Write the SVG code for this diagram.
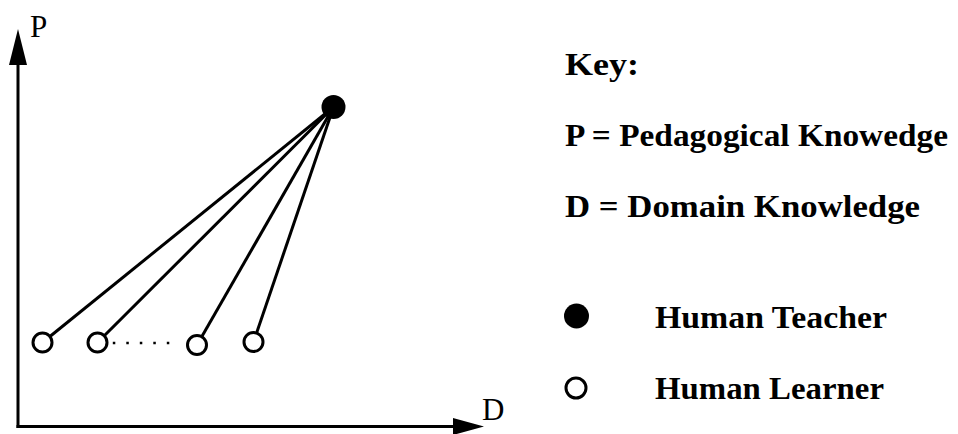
<svg xmlns="http://www.w3.org/2000/svg" width="958" height="434" viewBox="0 0 958 434">
<style>
.ln{stroke:#000;stroke-width:3;fill:none}
.lr{fill:#fff;stroke:#000;stroke-width:3}
.tc{fill:#000}
.ax{font-family:"Liberation Serif",serif;font-size:31px;fill:#000}
.key{font-family:"Liberation Serif",serif;font-weight:bold;font-size:31px;fill:#000}
</style>
<rect width="958" height="434" fill="#fff"/>
<g id="axes">
<line class="ln" x1="18" y1="428" x2="18" y2="62"/>
<polygon points="18,29 9,65 27,65" fill="#000"/>
<line class="ln" x1="16.5" y1="426.5" x2="456" y2="426.5"/>
<polygon points="484,426.5 453,418 453,435" fill="#000"/>
<text class="ax" x="30" y="37">P</text>
<text class="ax" x="482" y="420">D</text>
</g>
<g id="connectors">
<line class="ln" x1="333.5" y1="107" x2="42.5" y2="342.5"/>
<line class="ln" x1="333.5" y1="107" x2="97.5" y2="342.5"/>
<line class="ln" x1="333.5" y1="107" x2="197" y2="345"/>
<line class="ln" x1="333.5" y1="107" x2="253.5" y2="342"/>
<line x1="112.8" y1="343" x2="170" y2="343" stroke="#000" stroke-width="2.5" stroke-dasharray="2.5 11"/>
</g>
<g id="teacher"><circle class="tc" cx="333.5" cy="107" r="12"/></g>
<g id="learner1"><circle class="lr" cx="42.5" cy="342.5" r="9.5"/></g>
<g id="learner2"><circle class="lr" cx="97.5" cy="342.5" r="9.5"/></g>
<g id="learner3"><circle class="lr" cx="197" cy="345" r="9.5"/></g>
<g id="learner4"><circle class="lr" cx="253.5" cy="342" r="9.5"/></g>
<g id="key">
<text class="key" x="565" y="75" font-size="33" textLength="74" lengthAdjust="spacingAndGlyphs">Key:</text>
<text class="key" x="565" y="146" textLength="383" lengthAdjust="spacingAndGlyphs">P = Pedagogical Knowedge</text>
<text class="key" x="565" y="217" textLength="355" lengthAdjust="spacingAndGlyphs">D = Domain Knowledge</text>
<circle class="tc" cx="576.5" cy="316" r="12.5"/>
<text class="key" x="655" y="328" textLength="232" lengthAdjust="spacingAndGlyphs">Human Teacher</text>
<circle class="lr" cx="576" cy="388" r="10"/>
<text class="key" x="655" y="399" textLength="229" lengthAdjust="spacingAndGlyphs">Human Learner</text>
</g>
</svg>
